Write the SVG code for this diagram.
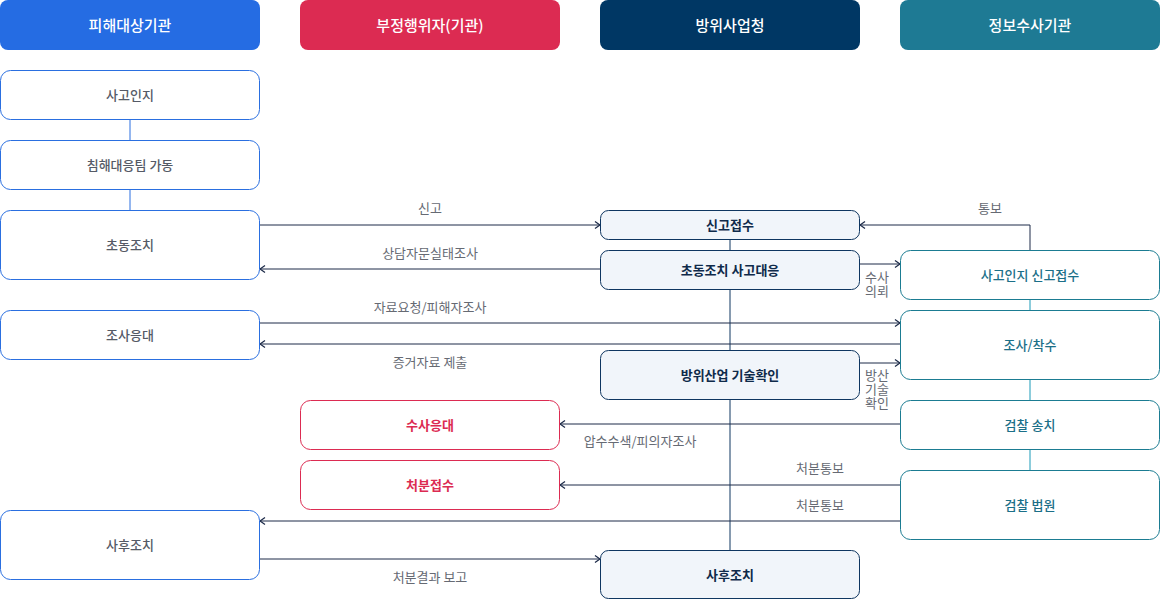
<svg xmlns="http://www.w3.org/2000/svg" width="1160" height="600" viewBox="0 0 1160 600">
<defs>
<marker id="arr" viewBox="0 0 10 10" refX="9" refY="5" markerWidth="10" markerHeight="10" markerUnits="userSpaceOnUse" orient="auto">
<path d="M4,1.5 L9,5 L4,8.5" fill="none" stroke="#1c2a48" stroke-width="1.3"/>
</marker>
<style>
text{font-family:"Noto Sans CJK KR","Noto Sans",sans-serif;text-anchor:middle;dominant-baseline:central}
.hd text{fill:#fff;font-size:15px;font-weight:500}
.b rect{fill:#fff;stroke:#2a6fe0;stroke-width:1}
.b text{fill:#555a66;font-size:13px;font-weight:500}
.r rect{fill:#fff;stroke:#dc2b52;stroke-width:1}
.r text{fill:#dc2b52;font-size:13px;font-weight:700}
.n rect{fill:#f1f5fa;stroke:#0f3660;stroke-width:1}
.n text{fill:#0f2a4a;font-size:13px;font-weight:700}
.t rect{fill:#fff;stroke:#1b7c92;stroke-width:1}
.t text{fill:#1b6f88;font-size:13px;font-weight:500}
.c{stroke:#1c2a48;stroke-width:1;fill:none}
.cb{stroke:#2a6fe0;stroke-width:1;fill:none}
.cn{stroke:#0f3660;stroke-width:1;fill:none}
.ct{stroke:#1b9ab8;stroke-width:1;fill:none}
.lb{fill:#666a73;font-size:13px}
</style>
</defs>

<g id="headers" class="hd">
<rect x="0" y="0" width="260" height="50" rx="8" fill="#256ce3"/><text x="130" y="24">피해대상기관</text>
<rect x="300" y="0" width="260" height="50" rx="8" fill="#dc2b52"/><text x="430" y="24">부정행위자(기관)</text>
<rect x="600" y="0" width="260" height="50" rx="8" fill="#003764"/><text x="730" y="24">방위사업청</text>
<rect x="900" y="0" width="260" height="50" rx="8" fill="#1e7a94"/><text x="1030" y="24">정보수사기관</text>
</g>

<g id="connectors">
<line class="cb" x1="130" y1="120" x2="130" y2="140"/>
<line class="cb" x1="130" y1="190" x2="130" y2="210"/>
<line class="cn" x1="730" y1="240" x2="730" y2="550"/>
<line class="ct" x1="1030" y1="300" x2="1030" y2="310"/>
<line class="ct" x1="1030" y1="380" x2="1030" y2="400"/>
<line class="ct" x1="1030" y1="450" x2="1030" y2="470"/>
<line class="c" x1="260" y1="225" x2="600" y2="225" marker-end="url(#arr)"/>
<line class="c" x1="600" y1="269" x2="260" y2="269" marker-end="url(#arr)"/>
<line class="c" x1="260" y1="323" x2="900" y2="323" marker-end="url(#arr)"/>
<line class="c" x1="900" y1="344" x2="260" y2="344" marker-end="url(#arr)"/>
<polyline class="c" points="1030,250 1030,225 860,225" marker-end="url(#arr)"/>
<line class="c" x1="860" y1="264" x2="900" y2="264" marker-end="url(#arr)"/>
<line class="c" x1="860" y1="363" x2="900" y2="363" marker-end="url(#arr)"/>
<line class="c" x1="900" y1="424" x2="560" y2="424" marker-end="url(#arr)"/>
<line class="c" x1="900" y1="485" x2="560" y2="485" marker-end="url(#arr)"/>
<line class="c" x1="900" y1="521" x2="260" y2="521" marker-end="url(#arr)"/>
<line class="c" x1="260" y1="559" x2="600" y2="559" marker-end="url(#arr)"/>
<text class="lb" x="430" y="207">신고</text>
<text class="lb" x="430" y="252">상담자문실태조사</text>
<text class="lb" x="430" y="306">자료요청/피해자조사</text>
<text class="lb" x="430" y="361">증거자료 제출</text>
<text class="lb" x="990" y="207">통보</text>
<text class="lb" x="877" y="276">수사<tspan x="877" dy="14">의뢰</tspan></text>
<text class="lb" x="877" y="374">방산<tspan x="877" dy="14">기술</tspan><tspan x="877" dy="14">확인</tspan></text>
<text class="lb" x="640" y="440">압수수색/피의자조사</text>
<text class="lb" x="820" y="467">처분통보</text>
<text class="lb" x="820" y="504">처분통보</text>
<text class="lb" x="430" y="576">처분결과 보고</text>
</g>

<g id="n-sagoinji" class="b"><rect x="0.5" y="70.5" width="259" height="49" rx="10"/><text x="130" y="94">사고인지</text></g>
<g id="n-chimhae" class="b"><rect x="0.5" y="140.5" width="259" height="49" rx="10"/><text x="130" y="164">침해대응팀 가동</text></g>
<g id="n-chodong" class="b"><rect x="0.5" y="210.5" width="259" height="69" rx="10"/><text x="130" y="244">초동조치</text></g>
<g id="n-josaeungdae" class="b"><rect x="0.5" y="310.5" width="259" height="49" rx="10"/><text x="130" y="334">조사응대</text></g>
<g id="n-sahu1" class="b"><rect x="0.5" y="510.5" width="259" height="69" rx="10"/><text x="130" y="544">사후조치</text></g>

<g id="n-susaeungdae" class="r"><rect x="300.5" y="400.5" width="259" height="49" rx="10"/><text x="430" y="424">수사응대</text></g>
<g id="n-cheobun" class="r"><rect x="300.5" y="460.5" width="259" height="49" rx="10"/><text x="430" y="484">처분접수</text></g>

<g id="n-singo" class="n"><rect x="600.5" y="210.5" width="259" height="29" rx="8"/><text x="730" y="224">신고접수</text></g>
<g id="n-chodong2" class="n"><rect x="600.5" y="250.5" width="259" height="39" rx="8"/><text x="730" y="269">초동조치 사고대응</text></g>
<g id="n-gisul" class="n"><rect x="600.5" y="350.5" width="259" height="49" rx="8"/><text x="730" y="374">방위산업 기술확인</text></g>
<g id="n-sahu2" class="n"><rect x="600.5" y="550.5" width="259" height="48" rx="8"/><text x="730" y="574">사후조치</text></g>

<g id="n-sagosingo" class="t"><rect x="900.5" y="250.5" width="259" height="49" rx="10"/><text x="1030" y="274">사고인지 신고접수</text></g>
<g id="n-josa" class="t"><rect x="900.5" y="310.5" width="259" height="69" rx="10"/><text x="1030" y="344">조사/착수</text></g>
<g id="n-songchi" class="t"><rect x="900.5" y="400.5" width="259" height="49" rx="10"/><text x="1030" y="424">검찰 송치</text></g>
<g id="n-beopwon" class="t"><rect x="900.5" y="470.5" width="259" height="69" rx="10"/><text x="1030" y="504">검찰 법원</text></g>
</svg>
